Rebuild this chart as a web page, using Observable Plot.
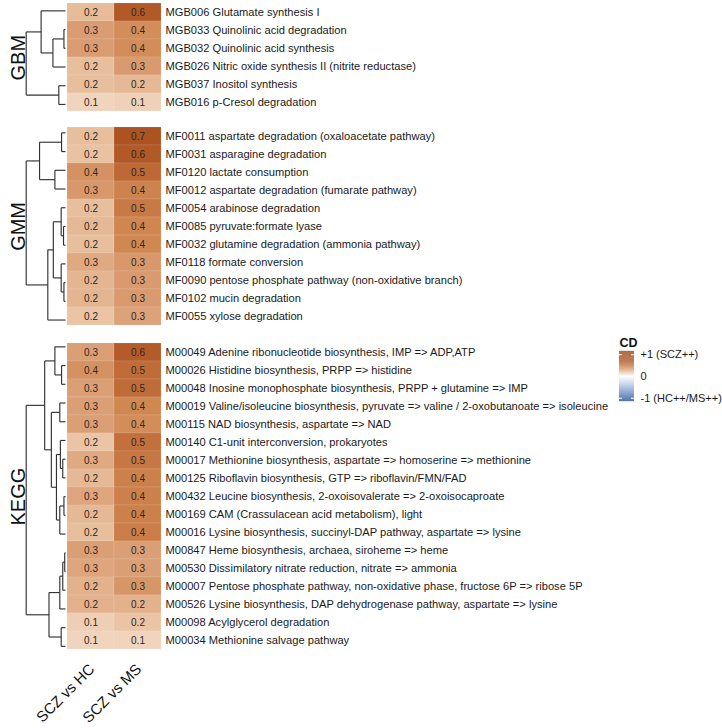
<!DOCTYPE html>
<html><head><meta charset="utf-8">
<script src="https://cdn.jsdelivr.net/npm/d3@7"></script>
<script src="https://cdn.jsdelivr.net/npm/@observablehq/plot@0.6"></script>
<style>
body{margin:0;background:#fff;font-family:"Liberation Sans",Arial,Helvetica,sans-serif}
#chart{position:relative;width:722px;height:728px;overflow:hidden;background:#fff}
</style>
</head><body><div id="chart"></div>
<script>
// ---------- DATA ----------
const comparisons = ["SCZ vs HC", "SCZ vs MS"];

const gbmLabels = [
  "MGB006 Glutamate synthesis I",
  "MGB033 Quinolinic acid degradation",
  "MGB032 Quinolinic acid synthesis",
  "MGB026 Nitric oxide synthesis II (nitrite reductase)",
  "MGB037 Inositol synthesis",
  "MGB016 p-Cresol degradation"
];
const gbmHC = [0.21, 0.31, 0.31, 0.20, 0.20, 0.12];
const gbmMS = [0.62, 0.38, 0.38, 0.32, 0.22, 0.13];
// tree node: [height, child, child], leaves = row index
const gbmTree = [1.0, [0.62, 0, [0.32, [0.04, 1, 2], 3]], [0.17, 4, 5]];

const gmmLabels = [
  "MF0011 aspartate degradation (oxaloacetate pathway)",
  "MF0031 asparagine degradation",
  "MF0120 lactate consumption",
  "MF0012 aspartate degradation (fumarate pathway)",
  "MF0054 arabinose degradation",
  "MF0085 pyruvate:formate lyase",
  "MF0032 glutamine degradation (ammonia pathway)",
  "MF0118 formate conversion",
  "MF0090 pentose phosphate pathway (non-oxidative branch)",
  "MF0102 mucin degradation",
  "MF0055 xylose degradation"
];
const gmmHC = [0.20, 0.19, 0.36, 0.33, 0.20, 0.22, 0.20, 0.27, 0.23, 0.23, 0.18];
const gmmMS = [0.68, 0.62, 0.54, 0.42, 0.46, 0.41, 0.40, 0.33, 0.32, 0.32, 0.29];
const gmmTree = [1.0,
  [0.66, [0.10, 0, 1], [0.27, 2, 3]],
  [0.45, [0.31, [0.11, 4, [0.05, 5, 6]], [0.11, 7, [0.04, 8, 9]]], 10]];

const keggLabels = [
  "M00049 Adenine ribonucleotide biosynthesis, IMP => ADP,ATP",
  "M00026 Histidine biosynthesis, PRPP => histidine",
  "M00048 Inosine monophosphate biosynthesis, PRPP + glutamine => IMP",
  "M00019 Valine/isoleucine biosynthesis, pyruvate => valine / 2-oxobutanoate => isoleucine",
  "M00115 NAD biosynthesis, aspartate => NAD",
  "M00140 C1-unit interconversion, prokaryotes",
  "M00017 Methionine biosynthesis, aspartate => homoserine => methionine",
  "M00125 Riboflavin biosynthesis, GTP => riboflavin/FMN/FAD",
  "M00432 Leucine biosynthesis, 2-oxoisovalerate => 2-oxoisocaproate",
  "M00169 CAM (Crassulacean acid metabolism), light",
  "M00016 Lysine biosynthesis, succinyl-DAP pathway, aspartate => lysine",
  "M00847 Heme biosynthesis, archaea, siroheme => heme",
  "M00530 Dissimilatory nitrate reduction, nitrate => ammonia",
  "M00007 Pentose phosphate pathway, non-oxidative phase, fructose 6P => ribose 5P",
  "M00526 Lysine biosynthesis, DAP dehydrogenase pathway, aspartate => lysine",
  "M00098 Acylglycerol degradation",
  "M00034 Methionine salvage pathway"
];
const keggHC = [0.30, 0.36, 0.30, 0.30, 0.30, 0.18, 0.27, 0.22, 0.28, 0.22, 0.20, 0.30, 0.28, 0.24, 0.24, 0.14, 0.12];
const keggMS = [0.60, 0.52, 0.52, 0.40, 0.38, 0.50, 0.47, 0.43, 0.43, 0.43, 0.44, 0.30, 0.30, 0.34, 0.24, 0.18, 0.12];
const keggTree = [1.0,
  [0.53, [0.27, 0, [0.10, 1, 2]],
         [0.36, [0.145, 3, 4],
                [0.23, [0.13, 5, [0.07, 6, 7]], [0.145, [0.04, 8, 9], 10]]]],
  [0.42, [0.145, [0.07, [0.02, 11, 12], 13], 14], [0.11, 15, 16]]];

const legendTitle = "CD";
const legendTicks = [1, 0, -1];
const legendTickLabels = ["+1 (SCZ++)", "0", "-1 (HC++/MS++)"];

// ---------- STYLE ----------
const colorStops = [-1, -0.5, 0, 0.1, 0.2, 0.3, 0.4, 0.5, 0.6, 0.7, 1];
const colorRange = ["#3561a7", "#9db3d9", "#ffffff", "#f2d9c5", "#e8bf9d", "#db9f76",
                    "#d08853", "#c3703d", "#b45b2a", "#aa511f", "#9c4312"];
const colorOpts = {type: "linear", domain: colorStops, range: colorRange, interpolate: "rgb"};
const FONT = '"Liberation Sans", Arial, Helvetica, sans-serif';
const rowH = 18.72;
const dendroW = 67, cellsW = 94, labelsW = 460;

const panels = [
  {title: "GBM",  labels: gbmLabels,  hc: gbmHC,  ms: gbmMS,  tree: gbmTree,  top: 1},
  {title: "GMM",  labels: gmmLabels,  hc: gmmHC,  ms: gmmMS,  tree: gmmTree,  top: 123.3},
  {title: "KEGG", labels: keggLabels, hc: keggHC, ms: keggMS, tree: keggTree, top: 337.3, xAxis: true}
];

const chart = document.getElementById("chart");
function place(node, left, top) {
  node.style.position = "absolute";
  node.style.left = left + "px";
  node.style.top = top + "px";
  node.style.maxWidth = "none";
  chart.append(node);
}

function dendroSegments(tree) {
  const segs = [];
  function walk(node) {
    if (typeof node === "number") return {y: node, h: 0};
    const [h, ...kids] = node;
    const ch = kids.map(walk);
    segs.push({x1: h, x2: h, y1: ch[0].y, y2: ch[ch.length - 1].y});
    for (const c of ch) segs.push({x1: c.h, x2: h, y1: c.y, y2: c.y});
    return {y: d3.mean(ch, c => c.y), h};
  }
  walk(tree);
  return segs;
}

const fmt = d3.format(".1f");

for (const p of panels) {
  const n = p.labels.length;
  const H = n * rowH;

  // dendrogram + panel title
  const dendro = Plot.plot({
    width: dendroW, height: H,
    margin: 0,
    x: {domain: [p.tree[0], 0], range: [25.7, 65], axis: null},
    y: {domain: [-0.5, n - 0.5], range: [0, H], axis: null},
    style: {fontFamily: FONT, background: "transparent", overflow: "visible"},
    marks: [
      Plot.link(dendroSegments(p.tree), {x1: "x1", y1: "y1", x2: "x2", y2: "y2", stroke: "#333", strokeWidth: 1.15}),
      Plot.text([p.title], {frameAnchor: "left", dx: 24, rotate: -90, lineAnchor: "bottom",
                            textAnchor: "middle", fontSize: 20, fill: "#111"})
    ]
  });
  place(dendro, 0, p.top);

  // heatmap
  const cells = [];
  p.labels.forEach((lab, i) => {
    cells.push({comp: comparisons[0], label: lab, value: p.hc[i]});
    cells.push({comp: comparisons[1], label: lab, value: p.ms[i]});
  });
  const mb = p.xAxis ? 72 : 0;
  const marks = [
    Plot.cell(cells, {x: "comp", y: "label", fill: "value", stroke: "#ffffff", strokeOpacity: 0.18, strokeWidth: 0.6}),
    Plot.text(cells, {x: "comp", y: "label", text: d => fmt(d.value), fontSize: 10, fill: "#2e2620"}),
    Plot.axisY({anchor: "right", tickSize: 0, tickPadding: 4, label: null})
  ];
  if (p.xAxis) {
    marks.push(Plot.text(comparisons, {x: d => d, frameAnchor: "bottom", text: d => d,
      rotate: -45, textAnchor: "end", lineAnchor: "middle", dx: 1, dy: 11,
      fontSize: 15, fill: "#111"}));
  }
  const heat = Plot.plot({
    width: cellsW + labelsW, height: H + mb,
    marginLeft: 0, marginRight: labelsW, marginTop: 0, marginBottom: mb,
    x: {domain: comparisons, padding: 0, axis: null},
    y: {domain: p.labels, padding: 0},
    color: colorOpts,
    style: {fontFamily: FONT, fontSize: "11.15px", color: "#1a1a1a", background: "transparent", overflow: "visible"},
    marks
  });
  place(heat, dendroW, p.top);
}

// legend
const ramp = d3.range(-115, 116).map(i => i / 100);
const legend = Plot.plot({
  width: 120, height: 85,
  marginLeft: 9, marginRight: 120 - 24, marginTop: 23, marginBottom: 12,
  x: {domain: [0, 1], axis: null},
  y: {domain: [-1.15, 1.15]},
  color: colorOpts,
  style: {fontFamily: FONT, fontSize: "11px", color: "#1a1a1a", background: "transparent", overflow: "visible"},
  marks: [
    Plot.rectY(ramp, {x1: 0, x2: 1, y1: d => d - 0.006, y2: d => d + 0.006, fill: d => d}),
    Plot.ruleY(legendTicks.filter(v => v !== 0), {x1: 0, x2: 0.2, stroke: "white", strokeWidth: 1}),
    Plot.ruleY(legendTicks.filter(v => v !== 0), {x1: 0.8, x2: 1, stroke: "white", strokeWidth: 1}),
    Plot.axisY({anchor: "right", ticks: legendTicks, tickSize: 0, tickPadding: 6,
                tickFormat: v => legendTickLabels[legendTicks.indexOf(v)], label: null}),
    Plot.text([legendTitle], {frameAnchor: "top-left", dy: -5, lineAnchor: "bottom", textAnchor: "start",
                              fontWeight: "bold", fontSize: 12.5, fill: "#111"})
  ]
});
place(legend, 610, 328);
</script>
</body></html>
